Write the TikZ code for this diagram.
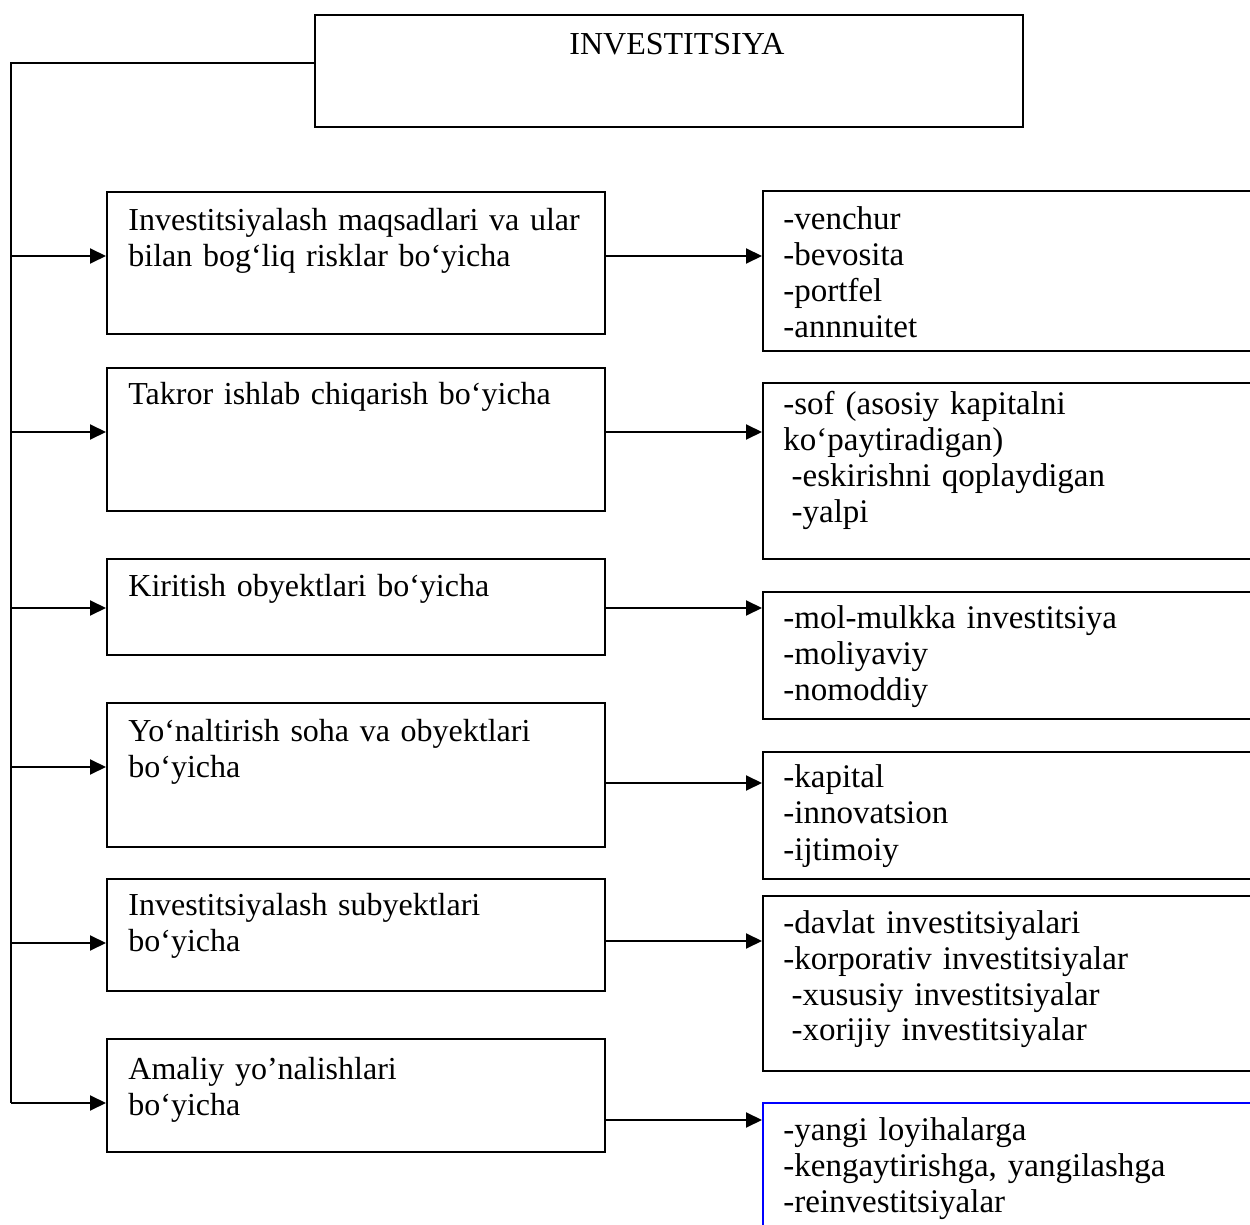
\documentclass[tikz,border=0pt]{standalone}
\usepackage{fontspec}
\setmainfont{Liberation Serif}
\usetikzlibrary{arrows.meta,fit}
\begin{document}
\begin{tikzpicture}[x=0.5pt,y=-0.5pt,
  every node/.style={font=\fontsize{16}{18}\selectfont},
  box/.style={draw=black, line width=1pt, inner sep=0pt},
  bluebox/.style={draw=blue, line width=1pt, inner sep=0pt},
  txt/.style={inner sep=0pt, anchor=base west, align=left, text width=240pt},
  rtxt/.style={txt, font=\fontsize{16.5}{18}\selectfont},
  arr/.style={line width=1pt, -{Triangle[length=8pt,width=7.5pt]}},
  wire/.style={line width=1pt}]

% page frame
\fill[white] (0,0) rectangle (1250,1225);
\useasboundingbox (0,0) rectangle (1250,1225);
\clip (0,0) rectangle (1250,1225);

% title box
\node[box, fit={(315,15) (1023,127)}] (T) {};
\node[inner sep=0pt, anchor=base] (Tt) at (677,55) {INVESTITSIYA};

% classification boxes (left column)
\node[box, fit={(107,192) (605,334)}] (L1) {};
\node[box, fit={(107,368) (605,511)}] (L2) {};
\node[box, fit={(107,559) (605,655)}] (L3) {};
\node[box, fit={(107,703) (605,847)}] (L4) {};
\node[box, fit={(107,879) (605,991)}] (L5) {};
\node[box, fit={(107,1039) (605,1152)}] (L6) {};

\node[txt] (L1t) at (128,231) {Investitsiyalash maqsadlari va ular\\bilan bog‘liq risklar bo‘yicha};
\node[txt] (L2t) at (128,405) {Takror ishlab chiqarish bo‘yicha};
\node[txt] (L3t) at (128,597) {Kiritish obyektlari bo‘yicha};
\node[txt] (L4t) at (128,741) {Yo‘naltirish soha va obyektlari\\bo‘yicha};
\node[txt] (L5t) at (128,915) {Investitsiyalash subyektlari\\bo‘yicha};
\node[txt] (L6t) at (128,1079) {Amaliy yo’nalishlari\\bo‘yicha};

% type boxes (right column, running off the page edge)
\node[box, fit={(763,191) (1280,351)}] (R1) {};
\node[box, fit={(763,383) (1280,559)}] (R2) {};
\node[box, fit={(763,592) (1280,719)}] (R3) {};
\node[box, fit={(763,752) (1280,879)}] (R4) {};
\node[box, fit={(763,896) (1280,1071)}] (R5) {};
\node[bluebox, fit={(763,1103) (1280,1280)}] (R6) {};

\node[rtxt] (R1t) at (783,230) {-venchur\\-bevosita\\-portfel\\-annnuitet};
\node[rtxt] (R2t) at (783,415) {-sof (asosiy kapitalni\\ko‘paytiradigan)\\\hspace*{0.25em}-eskirishni qoplaydigan\\\hspace*{0.25em}-yalpi};
\node[rtxt] (R3t) at (783,629) {-mol-mulkka investitsiya\\-moliyaviy\\-nomoddiy};
\node[rtxt] (R4t) at (783,788) {-kapital\\-innovatsion\\-ijtimoiy};
\node[rtxt] (R5t) at (783,933) {-davlat investitsiyalari\\-korporativ investitsiyalar\\\hspace*{0.25em}-xususiy investitsiyalar\\\hspace*{0.25em}-xorijiy investitsiyalar};
\node[rtxt] (R6t) at (783,1140) {-yangi loyihalarga\\-kengaytirishga, yangilashga\\-reinvestitsiyalar};

% trunk line on the left
\coordinate (j0) at (11,63);
\coordinate (j1) at (11,256);
\coordinate (j2) at (11,432);
\coordinate (j3) at (11,608);
\coordinate (j4) at (11,767);
\coordinate (j5) at (11,943);
\coordinate (j6) at (11,1103);
\draw[wire] (T.west |- j0) -- (j0) -- (j6);
\draw[arr] (j1) -- (L1.west |- j1);
\draw[arr] (j2) -- (L2.west |- j2);
\draw[arr] (j3) -- (L3.west |- j3);
\draw[arr] (j4) -- (L4.west |- j4);
\draw[arr] (j5) -- (L5.west |- j5);
\draw[arr] (j6) -- (L6.west |- j6);

% links from classification to types
\coordinate (m1) at (0,256);
\coordinate (m2) at (0,432);
\coordinate (m3) at (0,608);
\coordinate (m4) at (0,783);
\coordinate (m5) at (0,941);
\coordinate (m6) at (0,1120);
\draw[arr] (L1.east |- m1) -- (R1.west |- m1);
\draw[arr] (L2.east |- m2) -- (R2.west |- m2);
\draw[arr] (L3.east |- m3) -- (R3.west |- m3);
\draw[arr] (L4.east |- m4) -- (R4.west |- m4);
\draw[arr] (L5.east |- m5) -- (R5.west |- m5);
\draw[arr] (L6.east |- m6) -- (R6.west |- m6);
\end{tikzpicture}
\end{document}
